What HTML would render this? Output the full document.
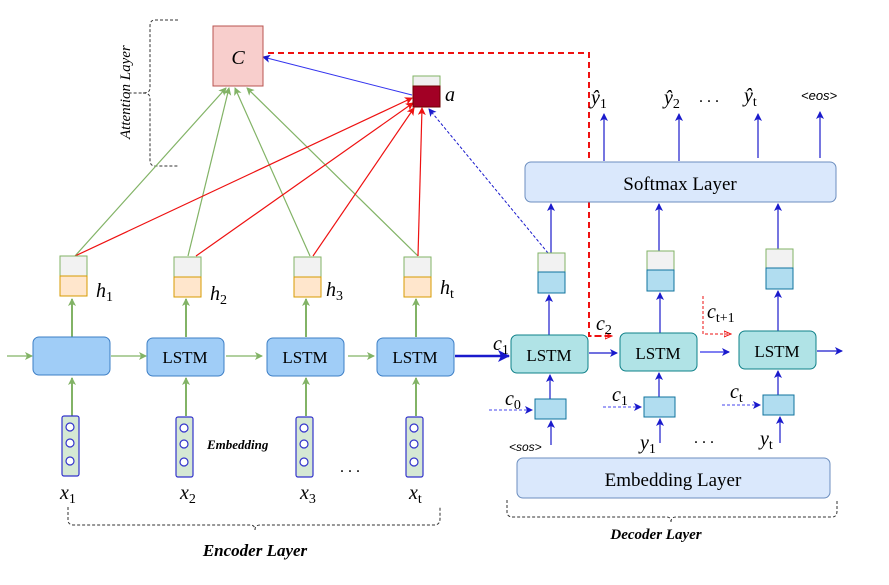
<!DOCTYPE html>
<html><head><meta charset="utf-8"><style>
html,body{margin:0;padding:0;background:#fff;}
svg{display:block;}
text{font-family:"Liberation Serif",serif;}
.m{font-style:italic;font-size:20px;}
.s{font-size:14px;font-style:normal;}
.sans{font-family:"Liberation Sans",sans-serif;font-style:italic;}
</style></head><body>
<svg width="889" height="585" viewBox="0 0 889 585" xmlns="http://www.w3.org/2000/svg">
<defs>
<marker id="ag" markerWidth="8" markerHeight="8" refX="7" refY="4" orient="auto" markerUnits="userSpaceOnUse"><path d="M0,0 L8,4 L0,8 L2,4 z" fill="#82b366"/></marker>
<marker id="ar" markerWidth="8" markerHeight="8" refX="7" refY="4" orient="auto" markerUnits="userSpaceOnUse"><path d="M0,0 L8,4 L0,8 L2,4 z" fill="#ee1111"/></marker>
<marker id="ab" markerWidth="8" markerHeight="8" refX="7" refY="4" orient="auto" markerUnits="userSpaceOnUse"><path d="M0,0 L8,4 L0,8 L2,4 z" fill="#1a1acc"/></marker>
<marker id="ab2" markerWidth="12" markerHeight="12" refX="11" refY="6" orient="auto" markerUnits="userSpaceOnUse"><path d="M0,0 L12,6 L0,12 L3,6 z" fill="#1a1acc"/></marker>
<marker id="ard" markerWidth="8" markerHeight="8" refX="7" refY="4" orient="auto" markerUnits="userSpaceOnUse"><path d="M0,1 L7,4 L0,7 z" fill="none" stroke="#ee1111" stroke-width="1"/></marker>
</defs>

<path d="M178,20 H155 Q150,20 150,26 V88 Q150,93 143,93 H122 M143,93 Q150,93 150,98 V160 Q150,166 155,166 H178" fill="none" stroke="#333" stroke-dasharray="3,2"/>
<text transform="translate(130,139) rotate(-90)" font-size="15" font-style="italic">Attention Layer</text>

<g stroke="#82b366" stroke-width="1.2" fill="none" marker-end="url(#ag)">
<line x1="75" y1="256" x2="226" y2="88"/>
<line x1="188" y1="256" x2="229" y2="88"/>
<line x1="310" y1="256" x2="235" y2="88"/>
<line x1="418" y1="256" x2="247" y2="88"/>
</g>
<g stroke="#ee1111" stroke-width="1.2" fill="none" marker-end="url(#ar)">
<line x1="75" y1="256" x2="412" y2="98"/>
<line x1="196" y1="256" x2="413" y2="103"/>
<line x1="313" y1="256" x2="414" y2="108"/>
<line x1="418" y1="256" x2="422" y2="108"/>
</g>
<line x1="412" y1="95" x2="263" y2="57" stroke="#3333ee" stroke-width="1" marker-end="url(#ab)"/>
<line x1="548" y1="253" x2="429" y2="109" stroke="#1a1acc" stroke-width="1" stroke-dasharray="3,2" marker-end="url(#ab)"/>

<rect x="213" y="26" width="50" height="60" fill="#f8cecc" stroke="#b85450"/>
<text x="238" y="64" text-anchor="middle" class="m" font-size="24">C</text>
<rect x="413" y="76" width="27" height="10" fill="#f0f0f0" stroke="#82b366"/>
<rect x="413" y="86" width="27" height="21" fill="#a20025" stroke="#6f0000"/>
<text x="445" y="101" class="m" font-size="24">a</text>

<path d="M268,53 H589 V336 H613" fill="none" stroke="#ee1111" stroke-width="2" stroke-dasharray="6,4"/>
<path d="M589,336 H612" fill="none" stroke="#ee1111" stroke-width="1" stroke-dasharray="3,2" marker-end="url(#ard)"/>
<text x="596" y="330" class="m" font-size="18">c<tspan class="s" dy="4">2</tspan></text>
<path d="M703,296 V334 H731" fill="none" stroke="#ee1111" stroke-width="1" stroke-dasharray="3,2" marker-end="url(#ard)"/>
<text x="707" y="318" class="m" font-size="18">c<tspan class="s" dy="4">t+1</tspan></text>

<g stroke="#82b366" stroke-width="2" fill="none" marker-end="url(#ag)">
<line x1="72" y1="337" x2="72" y2="299"/>
<line x1="186" y1="337" x2="186" y2="299"/>
<line x1="306" y1="337" x2="306" y2="299"/>
<line x1="416" y1="337" x2="416" y2="299"/>
<line x1="72" y1="416" x2="72" y2="378"/>
<line x1="186" y1="416" x2="186" y2="378"/>
<line x1="306" y1="416" x2="306" y2="378"/>
<line x1="416" y1="416" x2="416" y2="378"/>
</g>
<g stroke="#82b366" stroke-width="1.2" fill="none" marker-end="url(#ag)">
<line x1="7" y1="356" x2="32" y2="356"/>
<line x1="111" y1="356" x2="146" y2="356"/>
<line x1="226" y1="356" x2="262" y2="356"/>
<line x1="348" y1="356" x2="374" y2="356"/>
</g>
<g fill="#a0cdf7" stroke="#3d7fc6" stroke-width="1">
<rect x="33" y="337" width="77" height="38" rx="6"/>
<rect x="147" y="338" width="77" height="38" rx="6"/>
<rect x="267" y="338" width="77" height="38" rx="6"/>
<rect x="377" y="338" width="77" height="38" rx="6"/>
</g>
<g font-size="17" text-anchor="middle">
<text x="185" y="363">LSTM</text><text x="305" y="363">LSTM</text><text x="415" y="363">LSTM</text>
</g>
<g>
<rect x="60" y="256" width="27" height="20" fill="#f2f2f2" stroke="#82b366"/>
<rect x="60" y="276" width="27" height="20" fill="#ffe6cc" stroke="#d79b00"/>
<rect x="174" y="257" width="27" height="20" fill="#f2f2f2" stroke="#82b366"/>
<rect x="174" y="277" width="27" height="20" fill="#ffe6cc" stroke="#d79b00"/>
<rect x="294" y="257" width="27" height="20" fill="#f2f2f2" stroke="#82b366"/>
<rect x="294" y="277" width="27" height="20" fill="#ffe6cc" stroke="#d79b00"/>
<rect x="404" y="257" width="27" height="20" fill="#f2f2f2" stroke="#82b366"/>
<rect x="404" y="277" width="27" height="20" fill="#ffe6cc" stroke="#d79b00"/>
</g>
<text x="96" y="297" class="m">h<tspan class="s" dy="4">1</tspan></text>
<text x="210" y="300" class="m">h<tspan class="s" dy="4">2</tspan></text>
<text x="326" y="296" class="m">h<tspan class="s" dy="4">3</tspan></text>
<text x="440" y="294" class="m">h<tspan class="s" dy="4">t</tspan></text>
<g fill="#d5e8d4" stroke="#3333cc" stroke-width="1.2">
<rect x="62" y="416" width="17" height="60" rx="2"/>
<rect x="176" y="417" width="17" height="60" rx="2"/>
<rect x="296" y="417" width="17" height="60" rx="2"/>
<rect x="406" y="417" width="17" height="60" rx="2"/>
</g>
<g fill="#fff" stroke="#3333cc" stroke-width="1.2">
<circle cx="70" cy="427" r="4"/><circle cx="70" cy="443" r="4"/><circle cx="70" cy="461" r="4"/>
<circle cx="184" cy="428" r="4"/><circle cx="184" cy="444" r="4"/><circle cx="184" cy="462" r="4"/>
<circle cx="304" cy="428" r="4"/><circle cx="304" cy="444" r="4"/><circle cx="304" cy="462" r="4"/>
<circle cx="414" cy="428" r="4"/><circle cx="414" cy="444" r="4"/><circle cx="414" cy="462" r="4"/>
</g>
<text x="207" y="449" font-size="13" font-weight="bold" font-style="italic">Embedding</text>
<text x="340" y="472" font-size="16">. . .</text>
<text x="60" y="499" class="m">x<tspan class="s" dy="4">1</tspan></text>
<text x="180" y="499" class="m">x<tspan class="s" dy="4">2</tspan></text>
<text x="300" y="499" class="m">x<tspan class="s" dy="4">3</tspan></text>
<text x="409" y="499" class="m">x<tspan class="s" dy="4">t</tspan></text>
<path d="M68,507 V520 Q68,525 74,525 H250 Q255,525 255,530 M255,530 Q255,525 260,525 H434 Q440,525 440,519 V507" fill="none" stroke="#333" stroke-dasharray="3,2"/>
<text x="255" y="556" text-anchor="middle" font-size="17" font-weight="bold" font-style="italic">Encoder Layer</text>

<line x1="455" y1="356" x2="509" y2="356" stroke="#1a1acc" stroke-width="2.5" marker-end="url(#ab2)"/>
<text x="493" y="350" class="m" font-size="18">c<tspan class="s" dy="4">1</tspan></text>

<rect x="525" y="162" width="311" height="40" rx="6" fill="#dae8fc" stroke="#6c8ebf"/>
<text x="680" y="190" text-anchor="middle" font-size="19">Softmax Layer</text>
<g stroke="#1a1acc" stroke-width="1.2" marker-end="url(#ab)">
<line x1="604" y1="161" x2="604" y2="114"/>
<line x1="679" y1="161" x2="679" y2="114"/>
<line x1="758" y1="158" x2="758" y2="114"/>
<line x1="820" y1="158" x2="820" y2="112"/>
<line x1="551" y1="253" x2="551" y2="204"/>
<line x1="659" y1="251" x2="659" y2="204"/>
<line x1="778" y1="249" x2="778" y2="204"/>
<line x1="549" y1="335" x2="549" y2="295"/>
<line x1="660" y1="333" x2="660" y2="293"/>
<line x1="778" y1="331" x2="778" y2="291"/>
<line x1="550" y1="399" x2="550" y2="375"/>
<line x1="659" y1="397" x2="659" y2="373"/>
<line x1="778" y1="395" x2="778" y2="371"/>
<line x1="551" y1="445" x2="551" y2="421"/>
<line x1="660" y1="443" x2="660" y2="419"/>
<line x1="780" y1="443" x2="780" y2="417"/>
<line x1="589" y1="353" x2="617" y2="353"/>
<line x1="817" y1="351" x2="842" y2="351"/>
</g>
<line x1="700" y1="352" x2="729" y2="352" stroke="#5555ee" stroke-width="1.5" marker-end="url(#ab)"/>
<text x="591" y="104" class="m">ŷ<tspan class="s" dy="4">1</tspan></text>
<text x="664" y="104" class="m">ŷ<tspan class="s" dy="4">2</tspan></text>
<text x="699" y="102" font-size="16">. . .</text>
<text x="744" y="102" class="m">ŷ<tspan class="s" dy="4">t</tspan></text>
<text x="801" y="100" class="sans" style="font-family:'Liberation Sans',sans-serif" font-size="13">&lt;eos&gt;</text>

<rect x="538" y="253" width="27" height="19" fill="#f2f2f2" stroke="#82b366"/>
<rect x="538" y="272" width="27" height="21" fill="#b1ddf0" stroke="#10739e"/>
<rect x="647" y="251" width="27" height="19" fill="#f2f2f2" stroke="#82b366"/>
<rect x="647" y="270" width="27" height="21" fill="#b1ddf0" stroke="#10739e"/>
<rect x="766" y="249" width="27" height="19" fill="#f2f2f2" stroke="#82b366"/>
<rect x="766" y="268" width="27" height="21" fill="#b1ddf0" stroke="#10739e"/>
<g fill="#b0e3e6" stroke="#0e8088">
<rect x="511" y="335" width="77" height="38" rx="6"/>
<rect x="620" y="333" width="77" height="38" rx="6"/>
<rect x="739" y="331" width="77" height="38" rx="6"/>
</g>
<g font-size="17" text-anchor="middle">
<text x="549" y="361">LSTM</text><text x="658" y="359">LSTM</text><text x="777" y="357">LSTM</text>
</g>
<g fill="#b1ddf0" stroke="#10739e">
<rect x="535" y="399" width="31" height="20"/>
<rect x="644" y="397" width="31" height="20"/>
<rect x="763" y="395" width="31" height="20"/>
</g>
<g stroke="#4444ee" stroke-width="1" stroke-dasharray="3,2" marker-end="url(#ab)">
<line x1="489" y1="410" x2="532" y2="410"/>
<line x1="603" y1="407" x2="641" y2="407"/>
<line x1="722" y1="405" x2="760" y2="405"/>
</g>
<text x="505" y="405" class="m" font-size="18">c<tspan class="s" dy="4">0</tspan></text>
<text x="612" y="401" class="m" font-size="18">c<tspan class="s" dy="4">1</tspan></text>
<text x="730" y="398" class="m" font-size="18">c<tspan class="s" dy="4">t</tspan></text>
<text x="509" y="451" style="font-family:'Liberation Sans',sans-serif;font-style:italic" font-size="12">&lt;sos&gt;</text>
<text x="640" y="449" class="m">y<tspan class="s" dy="4">1</tspan></text>
<text x="694" y="443" font-size="16">. . .</text>
<text x="760" y="445" class="m">y<tspan class="s" dy="4">t</tspan></text>
<rect x="517" y="458" width="313" height="40" rx="6" fill="#dae8fc" stroke="#6c8ebf"/>
<text x="673" y="486" text-anchor="middle" font-size="19">Embedding Layer</text>
<path d="M507,500 V512 Q507,517 513,517 H667 Q671,517 671,522 M671,522 Q671,517 676,517 H832 Q837,517 837,511 V500" fill="none" stroke="#333" stroke-dasharray="3,2"/>
<text x="656" y="539" text-anchor="middle" font-size="15" font-weight="bold" font-style="italic">Decoder Layer</text>
</svg>
</body></html>
